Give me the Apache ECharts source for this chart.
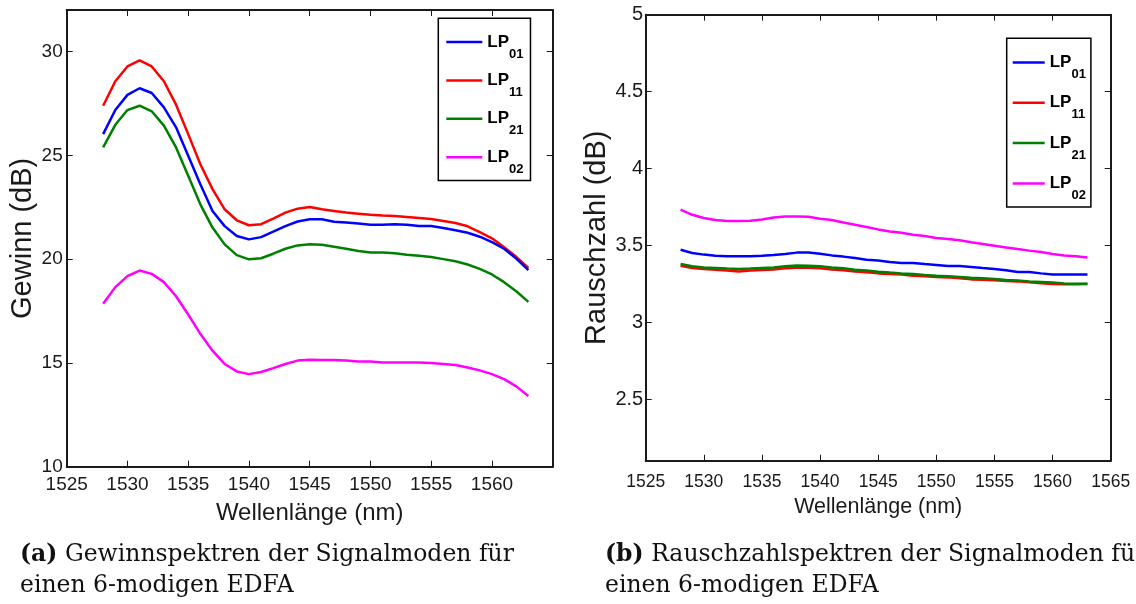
<!DOCTYPE html>
<html>
<head>
<meta charset="utf-8">
<script src="https://cdn.jsdelivr.net/npm/echarts@6/dist/echarts.min.js"></script>
<style>
  html, body { margin: 0; padding: 0; background: #fff; }
  #chart { width: 1136px; height: 604px; }
</style>
</head>
<body>
<div id="chart"></div>
<script>
// Wavelength grid (nm) shared by both spectra
const wavelengths = [1528, 1529, 1530, 1531, 1532, 1533, 1534, 1535, 1536, 1537, 1538, 1539,
  1540, 1541, 1542, 1543, 1544, 1545, 1546, 1547, 1548, 1549, 1550, 1551,
  1552, 1553, 1554, 1555, 1556, 1557, 1558, 1559, 1560, 1561, 1562, 1563];

const modeNames = ['LP01', 'LP11', 'LP21', 'LP02'];
const modeColors = ['#0000ff', '#ff0000', '#008000', '#ff00ff'];

// Gain spectra (dB)
const gainLP01 = [26.02, 27.18, 27.91, 28.23, 28.00, 27.31, 26.35, 24.98, 23.61, 22.32, 21.59, 21.11,
  20.95, 21.06, 21.32, 21.59, 21.81, 21.92, 21.92, 21.80, 21.76, 21.71, 21.66, 21.66,
  21.68, 21.66, 21.59, 21.59, 21.50, 21.39, 21.27, 21.08, 20.82, 20.50, 20.03, 19.47];
const gainLP11 = [27.39, 28.57, 29.28, 29.57, 29.28, 28.57, 27.44, 26.02, 24.57, 23.37, 22.40, 21.87,
  21.63, 21.68, 21.95, 22.24, 22.43, 22.51, 22.40, 22.32, 22.24, 22.19, 22.14, 22.10,
  22.08, 22.03, 21.98, 21.93, 21.84, 21.74, 21.58, 21.30, 21.00, 20.57, 20.11, 19.58];
const gainLP21 = [25.38, 26.47, 27.18, 27.39, 27.12, 26.43, 25.38, 24.01, 22.64, 21.52, 20.71, 20.19,
  19.99, 20.04, 20.26, 20.50, 20.66, 20.71, 20.69, 20.60, 20.50, 20.39, 20.32, 20.32,
  20.28, 20.21, 20.16, 20.10, 20.00, 19.90, 19.74, 19.53, 19.26, 18.89, 18.45, 17.94];
const gainLP02 = [17.85, 18.65, 19.18, 19.45, 19.29, 18.89, 18.21, 17.33, 16.40, 15.59, 14.95, 14.59,
  14.46, 14.56, 14.75, 14.95, 15.11, 15.15, 15.14, 15.14, 15.11, 15.07, 15.07, 15.02,
  15.02, 15.02, 15.02, 14.99, 14.95, 14.90, 14.78, 14.64, 14.46, 14.22, 13.87, 13.41];

// Noise figure spectra (dB)
const nfLP01 = [3.472, 3.451, 3.440, 3.433, 3.429, 3.429, 3.429, 3.433, 3.438, 3.444, 3.453, 3.453,
  3.446, 3.435, 3.427, 3.418, 3.407, 3.401, 3.392, 3.386, 3.386, 3.379, 3.373, 3.366,
  3.366, 3.360, 3.353, 3.347, 3.338, 3.327, 3.327, 3.318, 3.310, 3.310, 3.310, 3.310];
const nfLP11 = [3.368, 3.353, 3.347, 3.342, 3.336, 3.331, 3.336, 3.340, 3.344, 3.351, 3.355, 3.355,
  3.351, 3.344, 3.338, 3.331, 3.325, 3.318, 3.314, 3.310, 3.303, 3.299, 3.295, 3.292,
  3.286, 3.279, 3.277, 3.273, 3.269, 3.266, 3.260, 3.253, 3.249, 3.247, 3.247, 3.249];
const nfLP21 = [3.379, 3.364, 3.357, 3.353, 3.349, 3.347, 3.349, 3.353, 3.357, 3.364, 3.370, 3.368,
  3.364, 3.357, 3.351, 3.342, 3.336, 3.329, 3.323, 3.318, 3.314, 3.308, 3.303, 3.299,
  3.295, 3.290, 3.286, 3.282, 3.275, 3.271, 3.266, 3.262, 3.258, 3.253, 3.251, 3.251];
const nfLP02 = [3.732, 3.699, 3.678, 3.665, 3.658, 3.658, 3.660, 3.669, 3.682, 3.688, 3.688, 3.686,
  3.673, 3.665, 3.649, 3.634, 3.619, 3.604, 3.591, 3.582, 3.569, 3.561, 3.548, 3.541,
  3.533, 3.520, 3.509, 3.498, 3.487, 3.476, 3.466, 3.457, 3.444, 3.435, 3.429, 3.422];

// Tick positions
const gainXTicks = [1525, 1530, 1535, 1540, 1545, 1550, 1555, 1560];
const gainYTicks = [10, 15, 20, 25, 30];
const nfXTicks = [1525, 1530, 1535, 1540, 1545, 1550, 1555, 1560, 1565];
const nfYTicks = [2.5, 3, 3.5, 4, 4.5, 5];

// Captions
const captionA = ['(a)', 'Gewinnspektren der Signalmoden für', 'einen 6-modigen EDFA'];
const captionB = ['(b)', 'Rauschzahlspektren der Signalmoden für', 'einen 6-modigen EDFA'];

const SANS = "'Liberation Sans', Arial, Helvetica, sans-serif";
const SERIF = "'DejaVu Serif', 'Liberation Serif', serif";
const INK = '#1a1a1a';

function pairs(values) {
  return wavelengths.map((w, i) => [w, values[i]]);
}

function frameAxis(grid, position, min, max, ticks, withLabels, fontSize, margin) {
  return {
    type: 'value', gridIndex: grid, position: position, min: min, max: max,
    splitLine: { show: false },
    axisLine: { show: true, onZero: false, lineStyle: { color: INK, width: 2 } },
    axisTick: { show: true, inside: true, length: 6, customValues: ticks, lineStyle: { color: INK, width: 1 } },
    axisLabel: withLabels
      ? { show: true, customValues: ticks, formatter: v => String(v), fontFamily: SANS, fontSize: fontSize, color: INK, margin: margin }
      : { show: false }
  };
}

// Boxed legend with subscripted mode labels (LP + index)
function legendFor(left, top, iconW, gap, pad) {
  return {
    orient: 'vertical', left: left, top: top,
    data: modeNames, icon: 'rect', itemWidth: iconW, itemHeight: 2.5, itemGap: gap,
    padding: pad, backgroundColor: '#fff', borderColor: '#000', borderWidth: 1.5,
    selectedMode: false,
    formatter: name => '{a|LP}{b|' + name.slice(2) + '}',
    textStyle: {
      rich: {
        a: { fontFamily: SANS, fontSize: 17, fontWeight: 'bold', color: '#000', lineHeight: 37, verticalAlign: 'middle' },
        b: { fontFamily: SANS, fontSize: 13, fontWeight: 'bold', color: '#000', lineHeight: 14, verticalAlign: 'bottom' }
      }
    }
  };
}

function caption(parts, x, y) {
  const fs = 23.5;
  return {
    type: 'text', left: x, top: y, silent: true,
    style: {
      text: '{b|' + parts[0] + '}{n| ' + parts[1] + '}\n{n|' + parts[2] + '}',
      fontFamily: SERIF, fontSize: fs, lineHeight: 31, fill: '#111',
      rich: {
        b: { fontFamily: SERIF, fontSize: fs, fontWeight: 'bold', lineHeight: 31, fill: '#111' },
        n: { fontFamily: SERIF, fontSize: fs, lineHeight: 31, fill: '#111' }
      }
    }
  };
}

const gainSets = [gainLP01, gainLP11, gainLP21, gainLP02];
const nfSets = [nfLP01, nfLP11, nfLP21, nfLP02];

const series = [];
gainSets.forEach((vals, i) => series.push({
  name: modeNames[i], type: 'line', xAxisIndex: 0, yAxisIndex: 0, data: pairs(vals),
  showSymbol: false, symbol: 'none', lineStyle: { color: modeColors[i], width: 2.5 }, itemStyle: { color: modeColors[i] },
  silent: true, z: 2 + (3 - i)
}));
nfSets.forEach((vals, i) => series.push({
  name: modeNames[i], type: 'line', xAxisIndex: 2, yAxisIndex: 2, data: pairs(vals),
  showSymbol: false, symbol: 'none', lineStyle: { color: modeColors[i], width: 2.5 }, itemStyle: { color: modeColors[i] },
  silent: true, z: 2 + i
}));

const xGain = frameAxis(0, 'bottom', 1525, 1565, gainXTicks, true, 19, 9);
Object.assign(xGain, {
  name: 'Wellenlänge (nm)', nameLocation: 'middle', nameGap: 35,
  nameTextStyle: { fontFamily: SANS, fontSize: 24, color: INK }
});
const yGain = frameAxis(0, 'left', 10, 32, gainYTicks, true, 19, 4);
Object.assign(yGain, {
  name: 'Gewinn (dB)', nameLocation: 'middle', nameGap: 29, nameRotate: 90,
  nameTextStyle: { fontFamily: SANS, fontSize: 29, color: INK }
});
const xNf = frameAxis(1, 'bottom', 1525, 1565, nfXTicks, true, 17.5, 12);
Object.assign(xNf, {
  name: 'Wellenlänge (nm)', nameLocation: 'middle', nameGap: 35,
  nameTextStyle: { fontFamily: SANS, fontSize: 21.5, color: INK }
});
const yNf = frameAxis(1, 'left', 2.1, 5, nfYTicks, true, 20, 2.5);
Object.assign(yNf, {
  name: 'Rauschzahl (dB)', nameLocation: 'middle', nameGap: 16, nameRotate: 90,
  nameTextStyle: { fontFamily: SANS, fontSize: 29, color: INK }
});

const option = {
  animation: false,
  backgroundColor: '#fff',
  grid: [
    { left: 66.7, top: 10, width: 486, height: 456.7 },
    { left: 645.7, top: 14.7, width: 465, height: 446 }
  ],
  xAxis: [
    xGain,
    frameAxis(0, 'top', 1525, 1565, gainXTicks, false),
    xNf,
    frameAxis(1, 'top', 1525, 1565, nfXTicks, false)
  ],
  yAxis: [
    yGain,
    frameAxis(0, 'right', 10, 32, gainYTicks, false),
    yNf,
    frameAxis(1, 'right', 2.1, 5, nfYTicks, false)
  ],
  legend: [
    legendFor(438.3, 18.3, 36, 11.4, [15.2, 7, 4.8, 8]),
    legendFor(1006.7, 38.3, 32, 13.3, [15.7, 5, 5, 6])
  ],
  series: series,
  graphic: [
    caption(captionA, 20, 539),
    caption(captionB, 605, 539)
  ]
};

const chart = echarts.init(document.getElementById('chart'), null, { renderer: 'canvas' });
chart.setOption(option);
</script>
</body>
</html>
